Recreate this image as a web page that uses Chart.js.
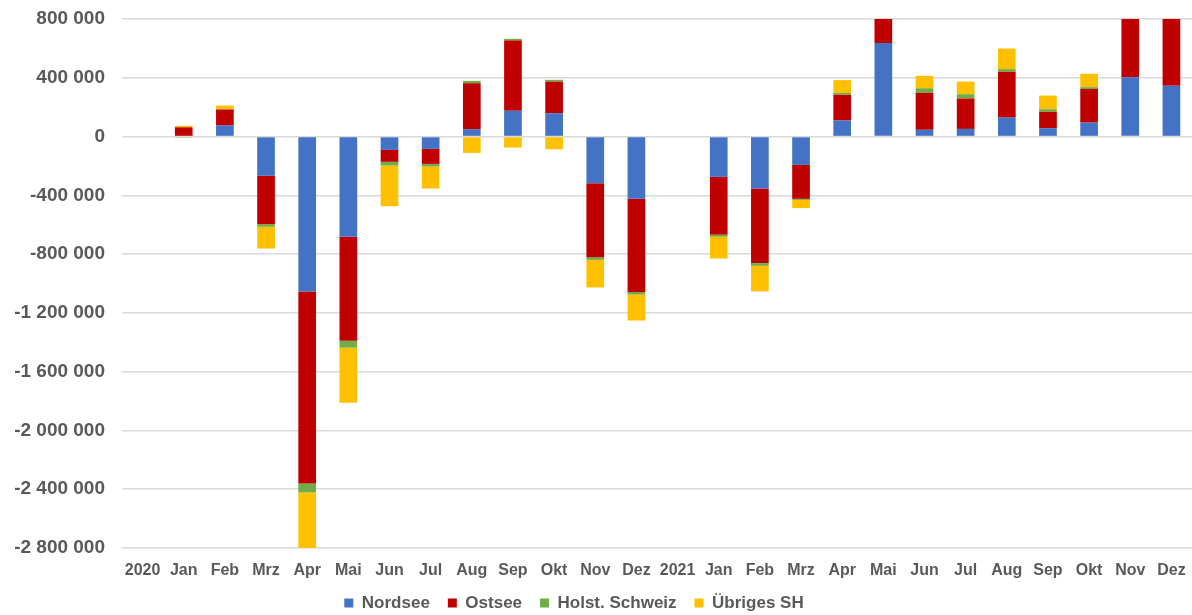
<!DOCTYPE html>
<html>
<head>
<meta charset="utf-8">
<script src="https://cdn.jsdelivr.net/npm/chart.js@4"></script>
<style>
  html, body { margin: 0; padding: 0; background: #ffffff; }
  #wrap { width: 1192px; height: 615px; }
</style>
</head>
<body>
<div id="wrap"><canvas id="c" width="1192" height="615"></canvas></div>
<script>
const categories = ['2020','Jan','Feb','Mrz','Apr','Mai','Jun','Jul','Aug','Sep','Okt','Nov','Dez',
                    '2021','Jan','Feb','Mrz','Apr','Mai','Jun','Jul','Aug','Sep','Okt','Nov','Dez'];
const nordsee  = [null, 5000, 75000, -267000, -1054000, -682000, -91000, -84000, 50000, 175000, 159000, -317000, -424000,
                  null, -274000, -354000, -193000, 109000, 637000, 46000, 52000, 129000, 57000, 95000, 404000, 345000];
const ostsee   = [null, 58000, 109000, -329000, -1307000, -708000, -81000, -102000, 313000, 478000, 215000, -504000, -633000,
                  null, -395000, -507000, -231000, 175000, 350000, 251000, 207000, 311000, 111000, 229000, 500000, 550000];
const holst    = [null, -3000, 2000, -18000, -61000, -47000, -25000, -18000, 16000, 12000, 12000, -18000, -18000,
                  null, -13000, -19000, -7000, 13000, 20000, 32000, 29000, 19000, 18000, 12000, 30000, 25000];
const uebriges = [null, 10000, 25000, -148000, -480000, -375000, -277000, -150000, -111000, -75000, -86000, -188000, -177000,
                  null, -148000, -174000, -56000, 87000, 100000, 84000, 86000, 140000, 93000, 91000, 90000, 80000];
const seriesNames = ['Nordsee', 'Ostsee', 'Holst. Schweiz', 'Übriges SH'];
const yMin = -2800000, yMax = 800000, yStep = 400000;

const colors = ['#4472C4', '#C00000', '#70AD47', '#FFC000'];
const FONT = '"Liberation Sans", Arial, sans-serif';
const TXT = '#595959';

function fmt(v) {
  const s = String(Math.abs(v)).replace(/\B(?=(\d{3})+(?!\d))/g, ' ');
  return (v < 0 ? '-' : '') + s;
}

const legendShift = {
  id: 'legendShift',
  afterLayout(chart) {
    const lg = chart.legend;
    if (lg) { lg.right -= 44; lg.top -= 3.5; lg.bottom -= 3.5; }
  }
};

new Chart(document.getElementById('c'), {
  type: 'bar',
  data: {
    labels: categories,
    datasets: [nordsee, ostsee, holst, uebriges].map((d, i) => ({
      label: seriesNames[i],
      data: d,
      backgroundColor: colors[i],
      borderWidth: 0,
      barPercentage: 0.43,
      categoryPercentage: 1.0
    }))
  },
  options: {
    responsive: false,
    animation: false,
    layout: { padding: { top: 19, right: 0, left: 0, bottom: 0 } },
    plugins: {
      legend: {
        position: 'bottom',
        maxHeight: 35,
        labels: {
          boxWidth: 9, boxHeight: 9, padding: 18,
          color: TXT,
          font: { family: FONT, size: 17, weight: 'bold' }
        }
      },
      tooltip: { enabled: false }
    },
    scales: {
      x: {
        stacked: true,
        grid: { display: true, drawOnChartArea: false, drawTicks: true, tickLength: 13,
                color: 'rgba(0,0,0,0)', tickColor: 'rgba(0,0,0,0)' },
        border: { display: false },
        ticks: {
          color: TXT, padding: 0, maxRotation: 0, autoSkip: false,
          font: { family: FONT, size: 16, weight: 'bold' }
        },
        afterFit(s) { s.height = 32; }
      },
      y: {
        stacked: true,
        min: yMin, max: yMax,
        grid: { color: '#d9d9d9', lineWidth: 1.5, drawTicks: true, tickLength: 17,
                tickColor: 'rgba(0,0,0,0)' },
        border: { display: false },
        ticks: {
          stepSize: yStep, color: TXT, padding: 0,
          font: { family: FONT, size: 19, weight: 'bold' },
          callback: (v) => fmt(v)
        },
        afterFit(s) { s.width = 122; }
      }
    }
  },
  plugins: [legendShift]
});
</script>
</body>
</html>
